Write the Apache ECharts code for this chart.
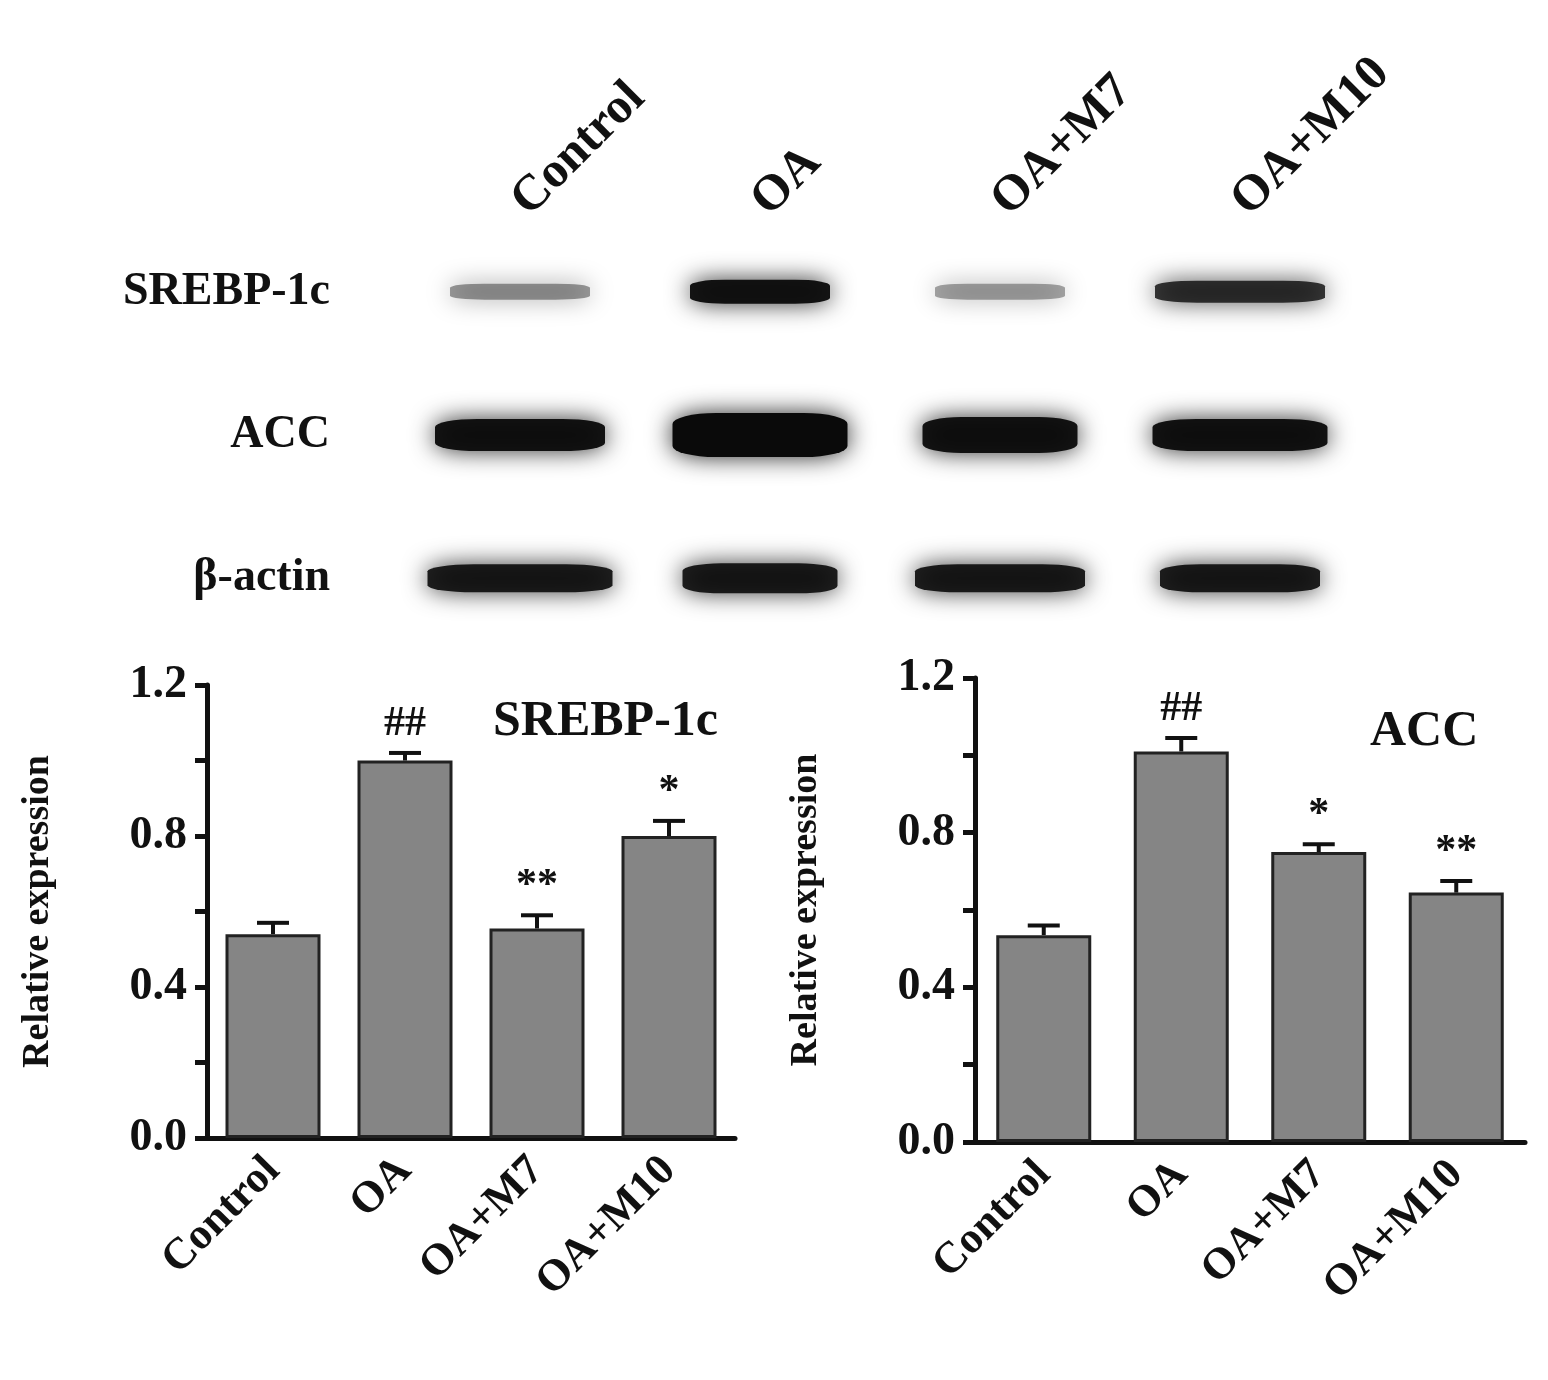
<!DOCTYPE html>
<html>
<head>
  <meta charset="UTF-8">
  <title>SREBP-1c / ACC western blot</title>
  <style>
    body { margin: 0; background: #fff; }
    #main { width: 1548px; height: 1380px; }
  </style>
</head>
<body>
  <div id="main"></div>
  <script src="https://cdn.jsdelivr.net/npm/echarts@6/dist/echarts.min.js"></script>
  <script>
    const groups = ['Control', 'OA', 'OA+M7', 'OA+M10'];
    const proteins = ['SREBP-1c', 'ACC', 'β-actin'];

    // blot band darkness (0-1) and thickness per protein row, per lane
    const bandDarkness = [
      [0.4, 0.95, 0.35, 0.8],
      [0.95, 1.0, 0.95, 0.95],
      [0.9, 0.9, 0.9, 0.9]
    ];
    const bandThickness = [
      [16, 24, 16, 22],
      [32, 44, 36, 32],
      [28, 30, 28, 28]
    ];
    const bandWidth = [
      [140, 140, 130, 170],
      [170, 175, 155, 175],
      [185, 155, 170, 160]
    ];

    const srebpMean = [0.54, 1.0, 0.555, 0.80];
    const srebpErr = [0.03, 0.02, 0.035, 0.04];
    const srebpMarks = ['', '##', '**', '*'];

    const accMean = [0.535, 1.01, 0.75, 0.645];
    const accErr = [0.025, 0.035, 0.02, 0.03];
    const accMarks = ['', '##', '*', '**'];

    const yTicks = ['0.0', '0.4', '0.8', '1.2'];

    const FONT = '"Liberation Serif", "Times New Roman", serif';
    const chart = echarts.init(document.getElementById('main'));

    const blotData = [];
    proteins.forEach((p, r) => {
      groups.forEach((g, c) => {
        blotData.push({
          value: [c, r],
          symbolSize: [bandWidth[r][c], bandThickness[r][c]],
          itemStyle: { opacity: bandDarkness[r][c] }
        });
      });
    });

    function errSeries(axisIdx, mean, err, marks) {
      return {
        type: 'custom',
        xAxisIndex: axisIdx, yAxisIndex: axisIdx,
        data: mean.map((m, i) => [i, m, err[i]]),
        z: 5,
        renderItem: function (params, api) {
          const i = api.value(0);
          const top = api.coord([i, api.value(1) + api.value(2)]);
          const base = api.coord([i, api.value(1)]);
          return {
            type: 'group',
            children: [
              { type: 'line', shape: { x1: top[0], y1: base[1], x2: top[0], y2: top[1] },
                style: { stroke: '#111', lineWidth: 4 } },
              { type: 'line', shape: { x1: top[0] - 16, y1: top[1], x2: top[0] + 16, y2: top[1] },
                style: { stroke: '#111', lineWidth: 4 } },
              { type: 'text', x: top[0], y: top[1] - 8,
                style: { text: marks[params.dataIndex], font: 'bold 42px ' + FONT,
                         fill: '#111', align: 'center', verticalAlign: 'bottom' } }
            ]
          };
        }
      };
    }

    const yAxisBase = {
      type: 'value', min: 0, max: 1.2, interval: 0.4,
      axisLine: { show: true, lineStyle: { color: '#111', width: 5 } },
      axisTick: { show: true, length: 12, lineStyle: { color: '#111', width: 5 } },
      minorTick: { show: true, splitNumber: 2, length: 12, lineStyle: { color: '#111', width: 5 } },
      splitLine: { show: false },
      axisLabel: { color: '#111', fontFamily: FONT, fontWeight: 'bold', fontSize: 46, margin: 20,
                   formatter: v => yTicks[Math.round(v / 0.4)] },
      name: 'Relative expression', nameLocation: 'middle', nameGap: 150, nameRotate: 90,
      nameTextStyle: { color: '#111', fontFamily: FONT, fontWeight: 'bold', fontSize: 38 }
    };
    const xAxisBase = {
      type: 'category', data: groups,
      axisLine: { lineStyle: { color: '#111', width: 5 } },
      axisTick: { alignWithLabel: true, length: 14, lineStyle: { color: '#111', width: 5 } },
      axisLabel: { rotate: 45, color: '#111', fontFamily: FONT, fontWeight: 'bold', fontSize: 44,
                   margin: 26, interval: 0 }
    };

    chart.setOption({
      animation: false,
      title: [
        { text: 'SREBP-1c', left: 488, top: 692,
          textStyle: { fontFamily: FONT, fontWeight: 'bold', fontSize: 50, color: '#111' } },
        { text: 'ACC', left: 1365, top: 702,
          textStyle: { fontFamily: FONT, fontWeight: 'bold', fontSize: 50, color: '#111' } }
      ],
      grid: [
        { left: 400, width: 960, top: 220, height: 430 },
        { left: 207, width: 528, top: 685, height: 453 },
        { left: 975, width: 550, top: 678, height: 464 }
      ],
      xAxis: [
        { gridIndex: 0, type: 'category', data: groups, position: 'top',
          axisLine: { show: false }, axisTick: { show: false },
          axisLabel: { rotate: -45, color: '#111', fontFamily: FONT, fontWeight: 'bold', fontSize: 50,
                       margin: 12, interval: 0 } },
        Object.assign({ gridIndex: 1 }, xAxisBase),
        Object.assign({ gridIndex: 2 }, xAxisBase)
      ],
      yAxis: [
        { gridIndex: 0, type: 'category', data: proteins, inverse: true,
          axisLine: { show: false }, axisTick: { show: false },
          axisLabel: { color: '#111', fontFamily: FONT, fontWeight: 'bold', fontSize: 46, margin: 70 } },
        Object.assign({ gridIndex: 1 }, yAxisBase),
        Object.assign({ gridIndex: 2 }, yAxisBase)
      ],
      series: [
        { type: 'scatter', xAxisIndex: 0, yAxisIndex: 0, symbol: 'roundRect',
          data: blotData,
          itemStyle: { color: '#0a0a0a', shadowBlur: 24, shadowColor: 'rgba(0,0,0,0.85)' } },
        { type: 'bar', xAxisIndex: 1, yAxisIndex: 1, data: srebpMean, barWidth: 95,
          itemStyle: { color: '#858585', borderColor: '#222', borderWidth: 3 } },
        { type: 'bar', xAxisIndex: 2, yAxisIndex: 2, data: accMean, barWidth: 95,
          itemStyle: { color: '#858585', borderColor: '#222', borderWidth: 3 } },
        errSeries(1, srebpMean, srebpErr, srebpMarks),
        errSeries(2, accMean, accErr, accMarks)
      ]
    });
  </script>
</body>
</html>
